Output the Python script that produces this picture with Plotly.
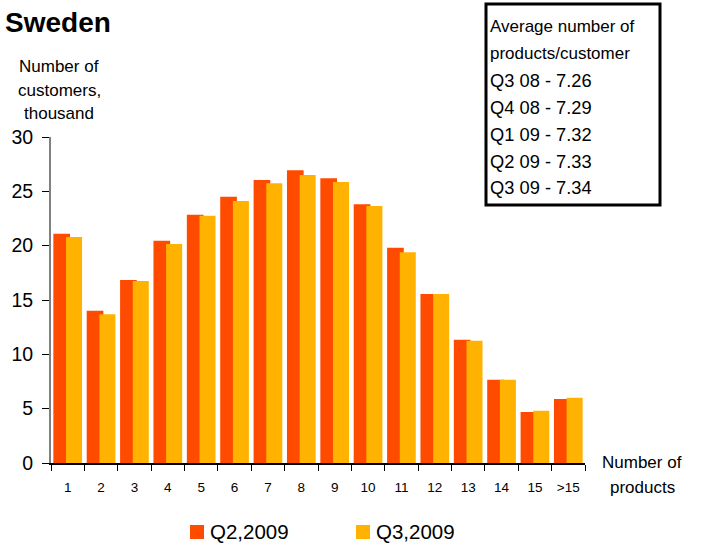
import plotly.graph_objects as go

# Number of products held per customer
categories = ["1", "2", "3", "4", "5", "6", "7", "8", "9", "10",
              "11", "12", "13", "14", "15", ">15"]

# Customers, thousand
q2_2009 = [21.1, 14.0, 16.85, 20.45, 22.85, 24.5, 26.05, 26.95, 26.2, 23.8,
           19.8, 15.55, 11.35, 7.65, 4.7, 5.9]
q3_2009 = [20.8, 13.7, 16.75, 20.15, 22.75, 24.1, 25.75, 26.5, 25.85, 23.65,
           19.4, 15.55, 11.25, 7.65, 4.8, 6.0]

series_names = ["Q2,2009", "Q3,2009"]

avg_lines = ["Average number of", "products/customer",
             "Q3 08 - 7.26", "Q4 08 - 7.29", "Q1 09 - 7.32",
             "Q2 09 - 7.33", "Q3 09 - 7.34"]

ORANGE = "#FF4B00"
YELLOW = "#FFB300"
FONT = "Liberation Sans, Arial, sans-serif"

# plot area in pixels
L, R, T, B = 51, 585, 137, 463
W, H = R - L, B - T


def px(x):
    return (x - L) / W


def py(y):
    return (B - y) / H


fig = go.Figure()
fig.add_trace(go.Bar(x=categories, y=q2_2009, name=series_names[0],
                     marker=dict(color=ORANGE, line=dict(width=0)),
                     offset=-0.43, width=0.5))
fig.add_trace(go.Bar(x=categories, y=q3_2009, name=series_names[1],
                     marker=dict(color=YELLOW, line=dict(width=0)),
                     offset=-0.05, width=0.48))

fig.update_layout(
    width=702, height=545,
    margin=dict(l=L, r=702 - R, t=T, b=545 - B, autoexpand=False),
    paper_bgcolor="white", plot_bgcolor="white",
    barmode="overlay",
    font=dict(family=FONT, color="black"),
    showlegend=False,
)

fig.update_xaxes(
    type="category", range=[-0.5, 15.5],
    showline=True, linecolor="black", linewidth=1.5,
    ticks="outside", tickson="boundaries", ticklen=6, tickcolor="black",
    tickfont=dict(size=13.5), showgrid=False, zeroline=False,
    ticklabelstandoff=11,
)
fig.update_yaxes(
    range=[0, 30], tickvals=[0, 5, 10, 15, 20, 25, 30],
    showline=True, linecolor="#808080", linewidth=2,
    ticks="outside", ticklen=7, tickcolor="black",
    tickfont=dict(size=19.5), showgrid=False, zeroline=False,
    ticklabelstandoff=5,
)


def label(text, x, y, size, anchor="left", bold=False):
    fig.add_annotation(text=f"<b>{text}</b>" if bold else text,
                       xref="paper", yref="paper", x=px(x), y=py(y),
                       xanchor=anchor, yanchor="middle", showarrow=False,
                       font=dict(size=size, family=FONT, color="black"))


# Title
label("Sweden", 3, 22, 28, bold=True)

# Y axis title
for i, t in enumerate(["Number of", "customers,", "thousand"]):
    label(t, 59, 67 + i * 23.5, 17, anchor="center")

# X axis title
for i, t in enumerate(["Number of", "products"]):
    label(t, 642, 462 + i * 25, 17, anchor="center")

# Info box
fig.add_shape(type="rect", xref="paper", yref="paper",
              x0=px(486), x1=px(660), y0=py(205), y1=py(4),
              line=dict(color="black", width=3), fillcolor="white", layer="above")
for i, t in enumerate(avg_lines):
    label(t, 488, 27 + i * 26.8, 17 if i < 2 else 18.3)

# Legend
for i, (name, color) in enumerate(zip(series_names, [ORANGE, YELLOW])):
    x0 = 190 + i * 166
    fig.add_shape(type="rect", xref="paper", yref="paper",
                  x0=px(x0), x1=px(x0 + 14), y0=py(539), y1=py(525),
                  line=dict(width=0), fillcolor=color)
    label(name, x0 + 18, 531, 20.5)

fig.write_html("out.html")
